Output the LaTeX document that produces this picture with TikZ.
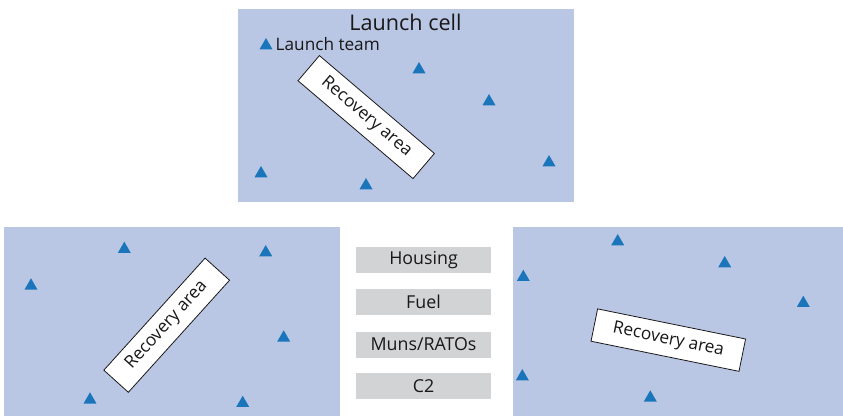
\documentclass[tikz,border=0pt]{standalone}
\usepackage{fontspec}
\setmainfont{Open Sans}
\usetikzlibrary{shapes.geometric}
\definecolor{panelblue}{HTML}{B9C7E5}
\definecolor{triblue}{HTML}{1B75BB}
\definecolor{boxgray}{HTML}{D2D3D5}
\definecolor{txt}{HTML}{1A1718}
\tikzset{
  panel/.style={fill=panelblue, draw=none, inner sep=0pt, anchor=north west},
  tri/.style={regular polygon, regular polygon sides=3, fill=triblue, draw=none, inner sep=0pt, minimum size=15pt},
  recov/.style={draw=txt, line width=0.8pt, fill=white, minimum width=151pt, minimum height=33pt, inner sep=0pt, font=\fontsize{17.3}{20}\selectfont, text=txt},
  graybox/.style={fill=boxgray, draw=none, minimum width=135pt, minimum height=26pt, inner sep=0pt, font=\fontsize{17.8}{20}\selectfont, text=txt},
  lbl/.style={text=txt, inner sep=0pt}
}
\begin{document}
\begin{tikzpicture}[x=1pt,y=-1pt]
\path[fill=white] (0,0) rectangle (843,416);
\useasboundingbox (0,0) rectangle (843,416);
% panels
\node[panel, minimum width=336pt, minimum height=193pt] (top) at (238,9) {};
\node[panel, minimum width=336pt, minimum height=189pt] (bl) at (4,227) {};
\node[panel, minimum width=330pt, minimum height=189pt] (br) at (513,227) {};
% top panel
\node[lbl, font=\fontsize{21.6}{24}\selectfont] (title) at (405.5,22) {Launch cell};
\node[tri] (ta) at (266,45.5) {};
\node[lbl, anchor=west, font=\fontsize{17.2}{20}\selectfont] (team) at (275.5,44.5) {Launch team};
\node[tri] (tb) at (419,69.5) {};
\node[tri] (tc) at (489,101.5) {};
\node[tri] (td) at (549,162.5) {};
\node[tri] (te) at (261,173.5) {};
\node[tri] (tf) at (366,185.5) {};
\node[recov, rotate=-40.4] (ra1) at (366.2,117.1) {Recovery area};
% bottom-left panel
\node[tri] (la) at (124.3,249.2) {};
\node[tri] (lb) at (265.7,252.5) {};
\node[tri] (lc) at (31,285.8) {};
\node[tri] (ld) at (283.7,337.8) {};
\node[tri] (le) at (90,399.8) {};
\node[tri] (lf) at (242.7,403.2) {};
\node[recov, rotate=47.9] (ra2) at (166.7,325.2) {Recovery area};
% bottom-right panel
\node[tri] (ra) at (617.7,241.5) {};
\node[tri] (rb) at (724.7,263.5) {};
\node[tri] (rc) at (523.3,277.2) {};
\node[tri] (rd) at (803.3,303.2) {};
\node[tri] (re) at (522.3,376.5) {};
\node[tri] (rf) at (650.3,397.8) {};
\node[recov, rotate=-11.5] (ra3) at (668.3,340.1) {Recovery area};
% gray boxes
\node[graybox] (housing) at (423.5,260) {Housing};
\node[graybox] (fuel) at (423.5,302) {Fuel};
\node[graybox] (muns) at (423.5,344.5) {Muns/RATOs};
\node[graybox] (c2) at (423.5,386) {C2};
\end{tikzpicture}
\end{document}
